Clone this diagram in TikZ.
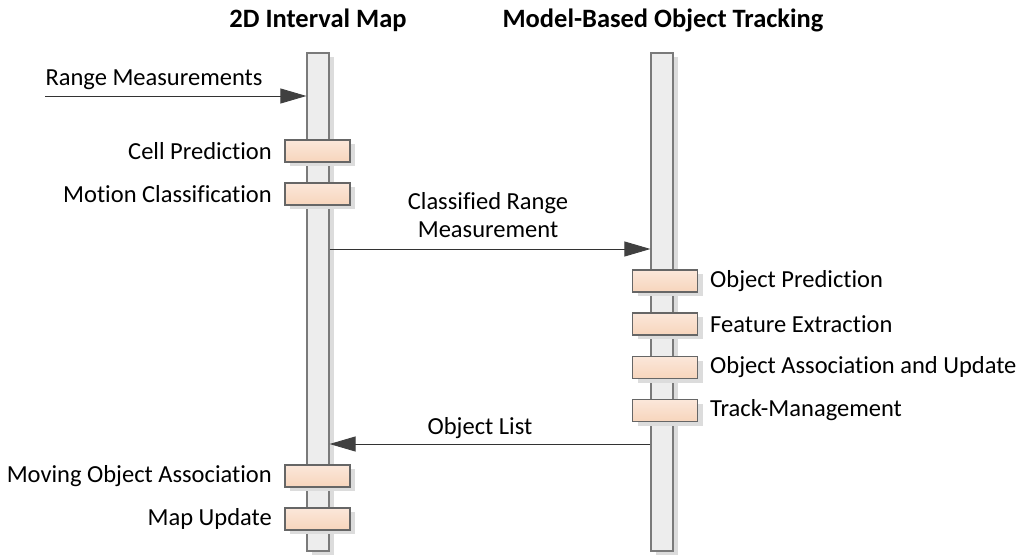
\documentclass[tikz,border=0pt]{standalone}
\usepackage{fontspec}
\setmainfont{Carlito}[Ligatures=NoCommon]
\usetikzlibrary{arrows.meta,shadows,positioning}
\definecolor{lifefill}{HTML}{EDEDED}
\definecolor{lifeedge}{HTML}{7A7A7A}
\definecolor{actfill}{HTML}{F7D5BC}
\definecolor{actfilltop}{HTML}{FBE7DA}
\definecolor{shadowgray}{HTML}{DCDCDC}
\definecolor{tipgray}{HTML}{404040}
\tikzset{
  lifeline/.style={draw=lifeedge, line width=1.2pt, fill=lifefill,
    minimum width=22pt, minimum height=498pt, inner sep=0pt,
    drop shadow={shadow xshift=5pt, shadow yshift=-4pt, fill=shadowgray, opacity=1}},
  activation/.style={draw=black!60, line width=1.2pt, top color=actfilltop, bottom color=actfill,
    minimum width=65pt, minimum height=22pt, inner sep=0pt,
    drop shadow={shadow xshift=5pt, shadow yshift=-4pt, fill=shadowgray, opacity=1}},
  msg/.style={draw=black!80, line width=0.9pt, -{Triangle[length=26pt,width=15pt,fill=tipgray,color=tipgray]}},
  title/.style={font=\fontsize{26.5}{30}\selectfont\bfseries},
  lbl/.style={font=\fontsize{24.5}{28}\selectfont, inner sep=0pt},
}
\begin{document}
\begin{tikzpicture}[x=1pt,y=-1pt]
\useasboundingbox (0,0) rectangle (1021,556);
\fill[white] (0,0) rectangle (1021,556);

% lifelines
\node[lifeline] (map) at (318,302) {};
\node[lifeline] (trk) at (662,302) {};

% headers
\node[title] (maptitle) at (318,20) {2D Interval Map};
\node[title] (trktitle) at (663,20) {Model-Based Object Tracking};

% activations on the map lifeline
\node[activation] (cell) at (317.5,151) {};
\node[activation] (motion) at (317.5,194) {};
\node[activation] (assoc) at (317.5,476) {};
\node[activation] (upd) at (317.5,519) {};

% activations on the tracking lifeline
\node[activation] (opred) at (665,281) {};
\node[activation] (feat) at (665,324) {};
\node[activation] (oassoc) at (665,367.5) {};
\node[activation] (track) at (665,410.5) {};

% activation labels
\node[lbl, anchor=east] at (272,151) {Cell Prediction};
\node[lbl, anchor=east] at (272,194) {Motion Classification};
\node[lbl, anchor=east] at (272,476) {Moving Object Association};
\node[lbl, anchor=east] at (272,519) {Map Update};
\node[lbl, anchor=west] at (710,281) {Object Prediction};
\node[lbl, anchor=west] at (710,324) {Feature Extraction};
\node[lbl, anchor=west] at (710,367.5) {Object Association and Update};
\node[lbl, anchor=west] at (710,410.5) {Track-Management};

% messages
\coordinate (rmstart) at (45,96);
\draw[msg] (rmstart) -- (map.west |- rmstart);
\node[lbl] at (154,80) {Range Measurements};

\coordinate (crm) at (329,249);
\draw[msg] (map.east |- crm) -- (trk.west |- crm);
\node[lbl, align=center] at (488,215) {Classified Range\\Measurement};

\coordinate (ol) at (651,444);
\draw[msg] (trk.west |- ol) -- (map.east |- ol);
\node[lbl] at (480,428) {Object List};
\end{tikzpicture}
\end{document}
